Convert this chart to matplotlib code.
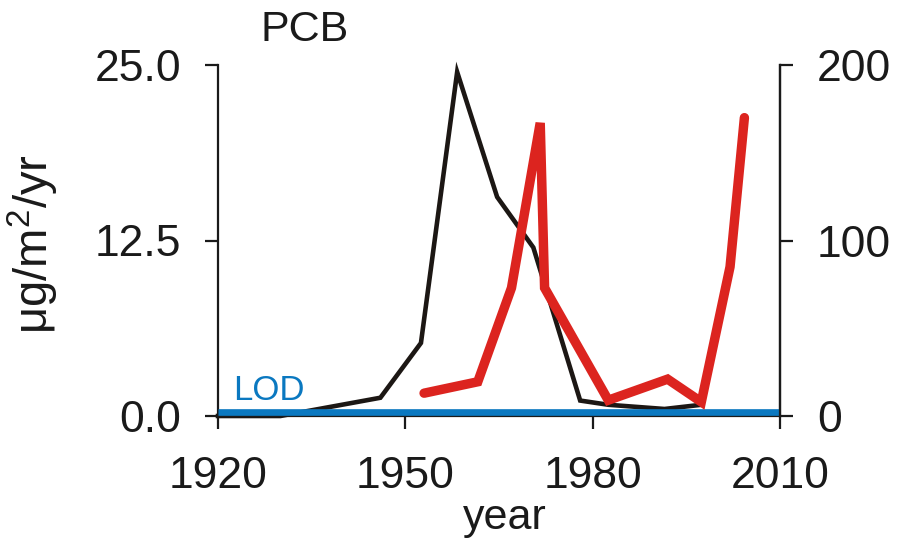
import matplotlib
matplotlib.use("Agg")
import matplotlib.pyplot as plt

plt.rcParams['font.family'] = ['Liberation Sans', 'DejaVu Sans']
plt.rcParams['mathtext.fontset'] = 'custom'
plt.rcParams['mathtext.rm'] = 'Liberation Sans'

# Data
flux_years = [1920, 1930, 1946, 1952.5, 1958.3, 1964.7, 1970.5, 1978, 1982.5, 1991.5, 1997.4]
flux_values = [0.0, 0.0, 1.3, 5.2, 24.5, 15.6, 12.0, 1.1, 0.8, 0.5, 0.8]

red_years = [1953, 1961.6, 1967, 1971.6, 1972.3, 1982.5, 1992, 1997.4, 2002, 2004.3]
red_values = [13, 19.5, 73, 167, 73, 9, 21, 8, 85, 170]

lod_years = [1920, 2010]
lod_values = [0.3, 0.3]

left_ticks = [0.0, 12.5, 25.0]
left_labels = ["0.0", "12.5", "25.0"]
right_ticks = [0, 100, 200]
right_labels = ["0", "100", "200"]
x_ticks = [1920, 1950, 1980, 2010]
x_labels = ["1920", "1950", "1980", "2010"]

TXT = '#1a1a1a'
FS = 32

fig = plt.figure(figsize=(8.97, 5.38), dpi=100)
ax = fig.add_axes([218/897, 1-416/538, (780-218)/897, (416-65)/538])

ax.plot(flux_years, flux_values, color='#1c1714', lw=3.3, clip_on=False,
        solid_joinstyle='miter', zorder=2)
ax.plot(lod_years, lod_values, color='#0a78c0', lw=4.8, clip_on=False,
        solid_capstyle='butt', zorder=3)
ax.text(1922.5, 1.15, "LOD", color='#0a78c0', fontsize=25, ha='left', va='baseline')

ax.set_xlim(1920, 2010)
ax.set_ylim(0, 25)
ax.set_xticks(x_ticks)
ax.set_xticklabels(x_labels)
ax.set_yticks(left_ticks)
ax.set_yticklabels(left_labels)

ax.spines['top'].set_visible(False)
for s in ['left', 'bottom', 'right']:
    ax.spines[s].set_linewidth(1.6)
    ax.spines[s].set_color('#1a1a1a')

ax.tick_params(axis='both', direction='out', length=9.5, width=1.6,
               colors='#1a1a1a', labelcolor=TXT, labelsize=FS)
ax.tick_params(axis='x', pad=19)
ax.tick_params(axis='y', pad=17)

ax2 = ax.twinx()
ax2.plot(red_years, red_values, color='#dc241f', lw=6.8, clip_on=False,
         solid_capstyle='round', solid_joinstyle='miter')
ax2.set_ylim(0, 200)
ax2.set_yticks(right_ticks)
ax2.set_yticklabels(right_labels)
for s in ['top', 'left', 'bottom']:
    ax2.spines[s].set_visible(False)
ax2.spines['right'].set_linewidth(1.6)
ax2.spines['right'].set_color('#1a1a1a')
ax2.tick_params(axis='y', direction='out', length=9.5, width=1.6,
                colors='#1a1a1a', labelcolor=TXT, labelsize=FS, pad=17)

ax.set_ylabel("μg/m$^{2}$/yr", fontsize=34, color=TXT)
ax.yaxis.set_label_coords(-0.28, 0.49)
ax.set_xlabel("year", fontsize=31, color=TXT)
ax.xaxis.set_label_coords(0.511, -0.235)
ax.set_title("PCB", fontsize=31, color=TXT, x=0.155, pad=17)

fig.savefig("out.png", dpi=100)
